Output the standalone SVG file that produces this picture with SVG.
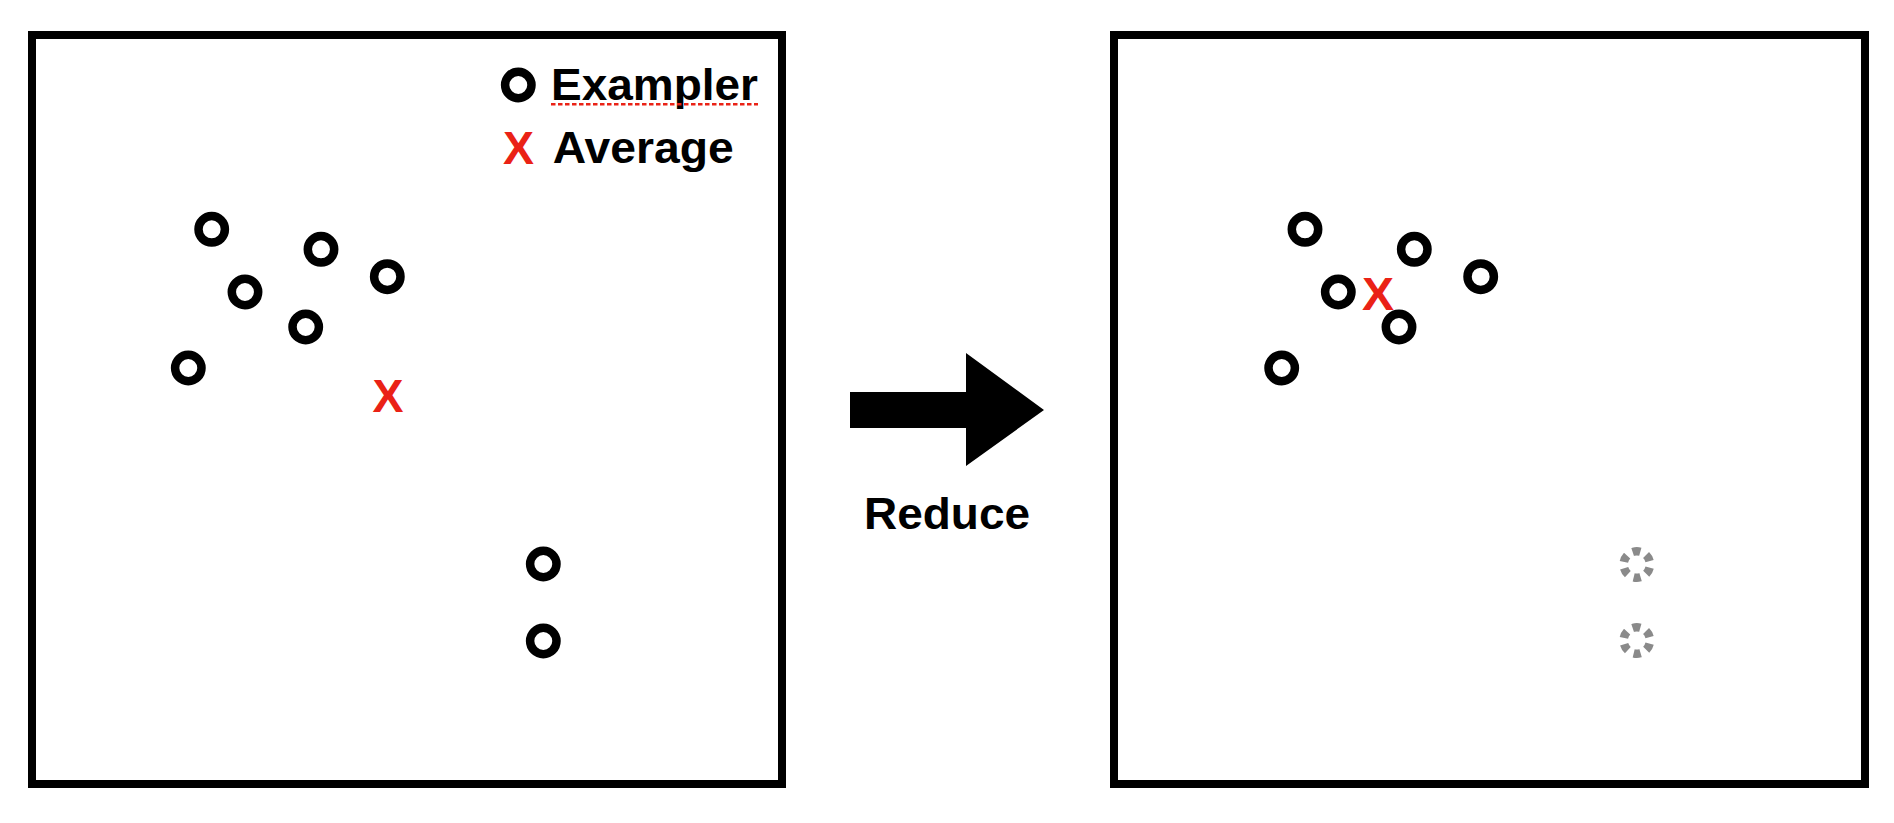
<svg xmlns="http://www.w3.org/2000/svg" width="1894" height="823" viewBox="0 0 1894 823">
<defs>
<style>
.frame{fill:none;stroke:#000;stroke-width:8}
.ex{fill:none;stroke:#000;stroke-width:8.5}
.ghost{fill:none;stroke:#8a8a8a;stroke-width:8.5;stroke-dasharray:7 6.6}
.lbl{font-family:"Liberation Sans",Arial,Helvetica,sans-serif;font-weight:bold;font-size:45px;fill:#000}
.avg{font-family:"Liberation Sans",Arial,Helvetica,sans-serif;font-weight:bold;font-size:47px;fill:#ea2216}
</style>
</defs>
<rect width="1894" height="823" fill="#fff"/>

<g id="panel-before">
<rect class="frame" x="32" y="35" width="750" height="749"/>
<g id="legend">
<circle class="ex" cx="518.3" cy="85" r="13.2"/>
<text class="lbl" x="551" y="100" textLength="207" lengthAdjust="spacingAndGlyphs">Exampler</text>
<line x1="551" y1="104.3" x2="758" y2="104.3" stroke="#ea2216" stroke-width="2.5" stroke-dasharray="4.5 2.5"/>
<text class="avg" x="503" y="163.5" textLength="31" lengthAdjust="spacingAndGlyphs">X</text>
<text class="lbl" x="552.7" y="163.3" textLength="181" lengthAdjust="spacingAndGlyphs">Average</text>
</g>
<g id="exemplars-before">
<circle class="ex" cx="211.7" cy="229.3" r="13.2"/>
<circle class="ex" cx="321" cy="249.3" r="13.2"/>
<circle class="ex" cx="387.3" cy="276.7" r="13.2"/>
<circle class="ex" cx="245" cy="292" r="13.2"/>
<circle class="ex" cx="305.7" cy="327" r="13.2"/>
<circle class="ex" cx="188.3" cy="368" r="13.2"/>
<circle class="ex" cx="543.3" cy="564" r="13.2"/>
<circle class="ex" cx="543.3" cy="641" r="13.2"/>
</g>
<text id="average-before" class="avg" x="372.5" y="412" textLength="31" lengthAdjust="spacingAndGlyphs">X</text>
</g>

<g id="connectors">
<polygon points="850,392 966,392 966,353 1044,410 966,466 966,428 850,428" fill="#000"/>
<text class="lbl" x="947" y="529" text-anchor="middle" textLength="166" lengthAdjust="spacingAndGlyphs">Reduce</text>
</g>

<g id="panel-after">
<rect class="frame" x="1114" y="35" width="751" height="749"/>
<g id="exemplars-after">
<circle class="ex" cx="1305" cy="229.3" r="13.2"/>
<circle class="ex" cx="1414.3" cy="249.3" r="13.2"/>
<circle class="ex" cx="1480.7" cy="276.7" r="13.2"/>
<circle class="ex" cx="1338.3" cy="292" r="13.2"/>
<circle class="ex" cx="1399" cy="327" r="13.2"/>
<circle class="ex" cx="1281.7" cy="368" r="13.2"/>
</g>
<g id="removed">
<circle class="ghost" cx="1636.8" cy="564.5" r="13.2" transform="rotate(-105 1636.8 564.5)"/>
<circle class="ghost" cx="1636.8" cy="640.5" r="13.2" transform="rotate(-105 1636.8 640.5)"/>
</g>
<text id="average-after" class="avg" x="1362" y="310" textLength="32" lengthAdjust="spacingAndGlyphs">X</text>
</g>
</svg>
